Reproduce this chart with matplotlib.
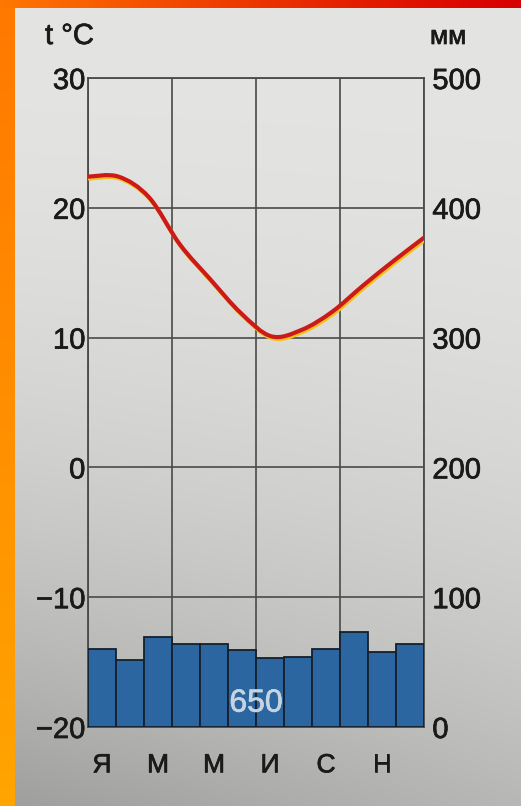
import numpy as np
import matplotlib
matplotlib.use("Agg")
import matplotlib.pyplot as plt
import matplotlib.patheffects as pe
from matplotlib.path import Path
from matplotlib.patches import PathPatch

# ---- data ----
months = ["Я", "Ф", "М", "А", "М", "И", "И", "А", "С", "О", "Н", "Д"]
month_labels = ["Я", "М", "М", "И", "С", "Н"]
temperature = [22.4, 22.4, 20.8, 17.2, 14.5, 11.9, 10.1, 10.6, 12.0, 14.0, 15.9, 17.7]
precipitation = [60, 52, 69, 64, 64, 59, 53, 54, 60, 73, 58, 64]
temp_ticks = [-20, -10, 0, 10, 20, 30]
prec_ticks = [0, 100, 200, 300, 400, 500]
annual_total = "650"

W, H = 521, 806
fig = plt.figure(figsize=(W / 100, H / 100), dpi=100)
FONT = "Liberation Sans"
thick = [pe.withStroke(linewidth=0.5, foreground="#1a1a1a")]

# ---- background (paper + orange/red frame) ----
bg = fig.add_axes([0, 0, 1, 1], zorder=-10)
yy, xx = np.mgrid[0:H, 0:W]
fy = yy / H
fx = xx / W
val = 229 - 45 * fy ** 2.2 - 25 * (fy ** 2) * (1 - fx)
img = np.stack([val - 1, val, val - 3], axis=-1)
left = xx < 15
r = np.full((H, W), 255.0)
g = 120 + 45 * fy
img[left] = np.stack([r, g, np.zeros_like(g)], axis=-1)[left]
top = yy < 8
g2 = 120 * (1 - fx) ** 1.2
r2 = 255 - 40 * fx
img[top] = np.stack([r2, g2, np.zeros_like(g2)], axis=-1)[top]
bg.imshow(np.clip(img, 0, 255).astype(np.uint8), aspect="auto", interpolation="bilinear")
bg.set_axis_off()

# ---- main axes ----
x0, x1 = 88 / W, 424 / W
y_top, y_bot = 78 / H, 727 / H
ax = fig.add_axes([x0, 1 - y_bot, x1 - x0, y_bot - y_top])
ax.patch.set_alpha(0)
ax.set_xlim(0, 12)
ax.set_ylim(temp_ticks[0], temp_ticks[-1])

grid_col = "#4a4a48"
ax.set_xticks([0, 3, 6, 9, 12])
ax.set_xticklabels([])
ax.set_xticks(np.arange(0.5, 12, 2), minor=True)
ax.set_xticklabels(month_labels, minor=True, fontsize=19, family=FONT)
ax.tick_params(axis="x", which="both", length=0, pad=19, colors="#1a1a1a")
ax.set_yticks(temp_ticks)
ax.set_yticklabels([f"{t}".replace("-", "\u2212") for t in temp_ticks],
                   fontsize=21, family=FONT)
ax.tick_params(axis="y", length=0, pad=2, colors="#1a1a1a")
for lab in ax.get_xticklabels(minor=True) + ax.get_yticklabels():
    lab.set_path_effects(thick)
ax.grid(True, which="major", color=grid_col, lw=1.2)
for s in ax.spines.values():
    s.set_color(grid_col)
    s.set_linewidth(1.3)

# smooth curve through the monthly temperatures (Catmull-Rom as cubic Bezier)
temp_x = np.linspace(0, 12, len(temperature))
pts = np.column_stack([temp_x, temperature])
ext = np.vstack([pts[0], pts, pts[-1]])
verts = [tuple(pts[0])]
codes = [Path.MOVETO]
for i in range(1, len(ext) - 2):
    p0, p1, p2, p3 = ext[i - 1], ext[i], ext[i + 1], ext[i + 2]
    c1 = p1 + (p2 - p0) / 6
    c2 = p2 - (p3 - p1) / 6
    verts += [tuple(c1), tuple(c2), tuple(p2)]
    codes += [Path.CURVE4] * 3
curve = PathPatch(Path(verts, codes), facecolor="none", edgecolor="#cc1a1a", lw=3.0,
                  capstyle="round", joinstyle="round", zorder=5,
                  path_effects=[pe.SimpleLineShadow(offset=(0.8, -1.4), shadow_color="#f2c21a", alpha=1.0),
                                pe.Normal()])
ax.add_patch(curve)

# ---- precipitation axis ----
ax2 = ax.twinx()
ax2.set_ylim(prec_ticks[0], prec_ticks[-1])
ax2.set_yticks(prec_ticks)
ax2.set_yticklabels([str(p) for p in prec_ticks], fontsize=21, family=FONT)
ax2.tick_params(axis="y", length=0, pad=6, colors="#1a1a1a")
for lab in ax2.get_yticklabels():
    lab.set_path_effects(thick)
for s in ax2.spines.values():
    s.set_visible(False)
bar_x = np.arange(len(precipitation)) + 0.5
ax2.bar(bar_x, precipitation, width=1.0, color="#2c66a0", edgecolor="#14202c", linewidth=1.3)
ax2.text(6, 18, annual_total, ha="center", va="center", fontsize=23,
         family=FONT, color="#c6d4e2",
         path_effects=[pe.withStroke(linewidth=0.5, foreground="#c6d4e2")])

# ---- axis unit labels ----
fig.text(45 / W, 1 - 44 / H, "t °C", ha="left", va="baseline", fontsize=21,
         family=FONT, color="#1a1a1a", path_effects=thick)
fig.text(430 / W, 1 - 44 / H, "мм", ha="left", va="baseline", fontsize=19,
         family=FONT, color="#1a1a1a", path_effects=thick)

fig.savefig("out.png", dpi=100)
